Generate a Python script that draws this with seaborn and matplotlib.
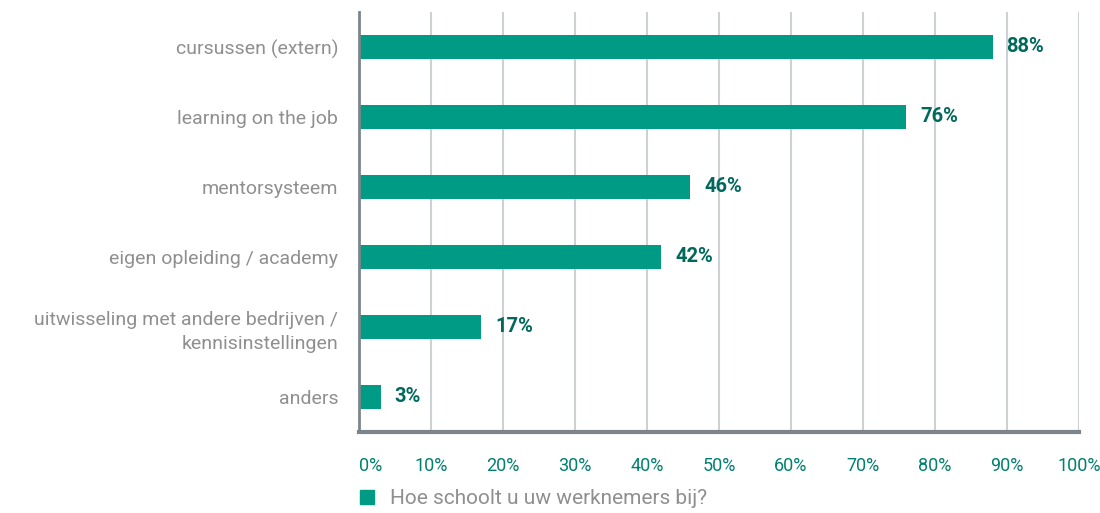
import matplotlib
matplotlib.use("Agg")
import matplotlib.pyplot as plt
import seaborn as sns
import pandas as pd
from matplotlib.lines import Line2D
from matplotlib import font_manager

categories = ["cursussen (extern)", "learning on the job", "mentorsysteem",
              "eigen opleiding / academy",
              "uitwisseling met andere bedrijven /\nkennisinstellingen", "anders"]
values = [88, 76, 46, 42, 17, 3]
series_name = "Hoe schoolt u uw werknemers bij?"
xticks = list(range(0, 101, 10))
xticklabels = [f"{t}%" for t in xticks]

sns.set_theme(style="white")
names = {f.name for f in font_manager.fontManager.ttflist}
fam = [f for f in ["Liberation Sans Narrow", "Roboto", "DejaVu Sans"] if f in names]
plt.rcParams["font.family"] = fam

BAR = "#009b84"
LBL = "#00695c"
TICK = "#00806e"
GRAY = "#8f8f8f"

df = pd.DataFrame({"cat": categories, "val": values})

fig = plt.figure(figsize=(11, 5.13), dpi=100)
ax = fig.add_axes([359/1100, 1-432/513, 720/1100, 420/513])
sns.barplot(data=df, x="val", y="cat", color=BAR, width=0.34, ax=ax,
            saturation=1, edgecolor="none")
ax.set_xlim(0, 100)
ax.set_ylim(5.5, -0.5)
ax.set_xticks(xticks)
ax.set_xticklabels(xticklabels, color=TICK, fontsize=13)
ax.set_xlabel("")
ax.set_ylabel("")
ax.tick_params(axis="x", length=0, pad=18)
ax.tick_params(axis="y", length=0, pad=15, labelsize=14, labelcolor=GRAY)
for lab in ax.get_yticklabels():
    lab.set_multialignment("right")
    lab.set_linespacing(1.45)
ax.get_xticklabels()[0].set_horizontalalignment("left")
ax.grid(axis="x", color="#cdd1d5", linewidth=1.5)
ax.set_axisbelow(True)
for s in ["top", "right"]:
    ax.spines[s].set_visible(False)
ax.spines["left"].set_color("#7d858b")
ax.spines["left"].set_linewidth(2)
ax.spines["bottom"].set_color("#7d858b")
ax.spines["bottom"].set_linewidth(3)

for i, v in enumerate(values):
    ax.annotate(f"{v}%", xy=(v, i), xytext=(10, 0), textcoords="offset points",
                va="center", ha="left", fontsize=14.5, fontweight="bold", color=LBL)

handle = Line2D([], [], marker="s", linestyle="none", markersize=10,
                markerfacecolor=BAR, markeredgecolor=BAR)
leg = fig.legend([handle], [series_name], loc="center left",
                 bbox_to_anchor=(357/1100, 1-499/513), frameon=False,
                 handlelength=1.0, handletextpad=0.6, borderpad=0,
                 borderaxespad=0, fontsize=15)
for t in leg.get_texts():
    t.set_color(GRAY)

fig.savefig("out.png", dpi=100)
